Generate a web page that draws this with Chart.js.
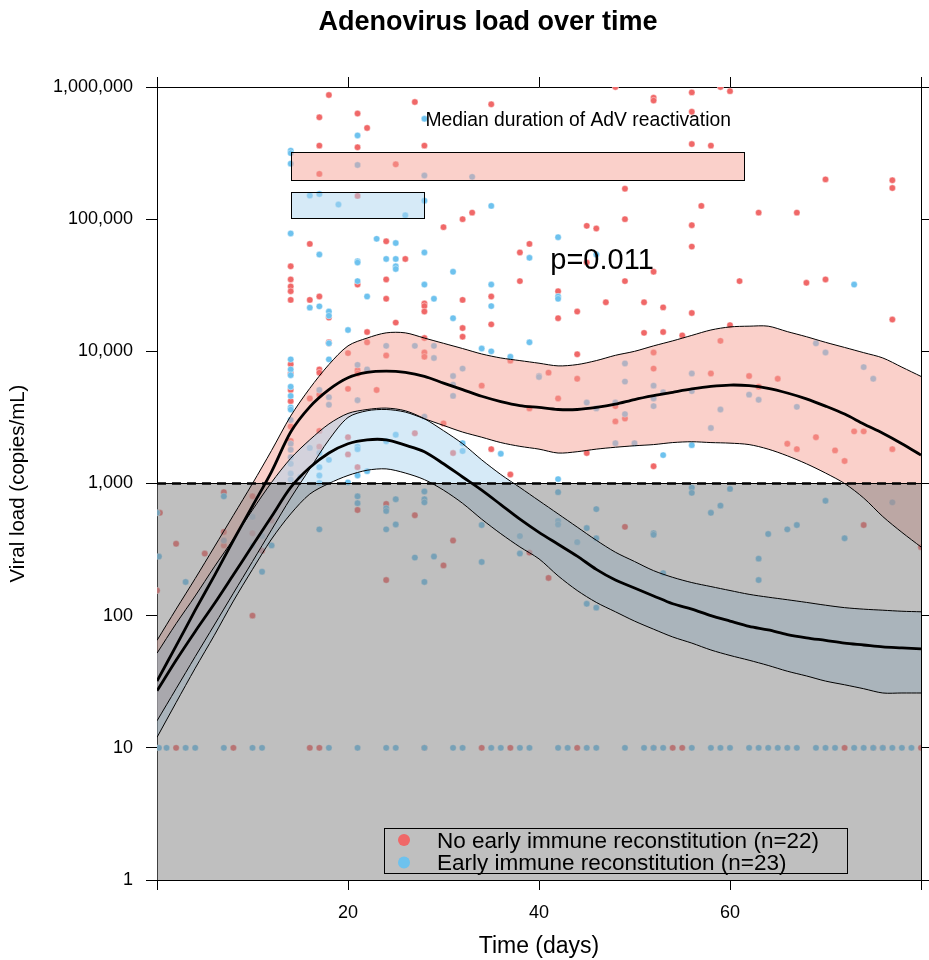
<!DOCTYPE html>
<html>
<head>
<meta charset="utf-8">
<title>Adenovirus load over time</title>
<script src="https://cdn.jsdelivr.net/npm/chart.js@4.4.1/dist/chart.umd.min.js"></script>
<style>
  html, body { margin: 0; padding: 0; background: #fff; }
  #wrap { width: 929px; height: 960px; }
</style>
</head>
<body>
<div id="wrap"><canvas id="chart"></canvas></div>
<script>
// values

const curveDays = [0, 2, 4, 6, 8, 10, 12, 14, 16, 18, 20, 22, 24, 26, 28, 30, 32, 34, 36, 38, 40,
  42, 44, 46, 48, 50, 52, 54, 56, 58, 60, 62, 64, 66, 68, 70, 72, 74, 76, 78, 80];

// no early immune reconstitution: fitted mean and 95% band
const redUpper = [65, 112, 191, 331, 575, 1000, 1780, 3240, 5250, 7940, 11000, 12600, 13800, 13800,
  12600, 11500, 10500, 9550, 8910, 8510, 8130, 7760, 7940, 8510, 9330, 10000, 11000, 12000, 13200,
  14500, 15300, 15500, 15500, 14100, 12900, 11700, 10700, 9770, 8910, 7590, 6460];
const redMean = [32, 59, 110, 200, 372, 676, 1230, 2450, 3800, 5130, 6310, 6920, 7080, 6920, 6460,
  5750, 5130, 4570, 4170, 3890, 3760, 3630, 3630, 3760, 3980, 4320, 4620, 4900, 5190, 5430, 5560,
  5500, 5250, 4840, 4370, 3850, 3350, 2820, 2400, 2000, 1640];
const redLower = [16, 28, 49, 85, 148, 257, 447, 776, 1290, 2140, 3160, 3550, 3630, 3470, 3090,
  2750, 2450, 2240, 2040, 1910, 1820, 1700, 1740, 1820, 1880, 1930, 1970, 2040, 2070, 2040, 2020,
  1970, 1820, 1620, 1410, 1200, 1000, 776, 562, 427, 331];

// early immune reconstitution
const blueUpper = [52, 87, 141, 234, 380, 631, 1020, 1550, 2140, 2820, 3390, 3630, 3720, 3550, 3090,
  2510, 2000, 1510, 1170, 933, 741, 589, 468, 372, 302, 257, 219, 195, 178, 166, 155, 145, 138, 132,
  126, 120, 115, 112, 110, 108, 107];
const blueMean = [27, 46, 76, 123, 204, 339, 562, 933, 1320, 1700, 2000, 2140, 2140, 1950, 1740,
  1410, 1120, 891, 692, 537, 427, 347, 282, 224, 186, 162, 141, 123, 112, 100, 91, 83, 78, 72, 68,
  65, 62, 60, 58, 57, 56];
const blueLower = [12, 22, 40, 71, 129, 224, 380, 589, 832, 1000, 1150, 1260, 1290, 1200, 1070, 891,
  708, 537, 417, 331, 269, 200, 155, 126, 107, 91, 79, 69, 62, 55, 50, 46, 42, 38, 35, 32, 30, 28, 26,
  26, 26];

// individual measurements [day, copies/mL]
const redPoints = [
  [18, 870000], [17, 590000], [21, 630000], [22, 490000], [27, 770000], [35, 740000],
  [17, 360000], [21, 350000], [28, 360000], [17, 220000], [25, 260000], [21, 150000],
  [30, 87000], [32, 100000], [33, 112000], [16, 65000], [24, 68000], [26, 50000],
  [38, 56000], [39, 65000], [38, 34000], [14, 44000], [14, 35000], [14, 31000],
  [14, 28500], [14, 24500], [16, 24500], [17, 26000], [18, 18000], [21, 32000],
  [24, 35000], [24, 25000], [28, 23000], [28, 22000], [28, 20000], [32, 24500],
  [35, 26000], [25, 16500], [22, 14000], [32, 15000], [32, 12900], [35, 16000], [18, 11700],
  [48, 1000000], [56, 910000], [59, 1000000], [60, 930000], [52, 830000], [52, 790000],
  [56, 650000], [56, 370000], [58, 360000], [70, 200000], [77, 197000], [77, 172000],
  [49, 170000], [57, 126000], [63, 112000], [67, 112000], [49, 100000], [56, 90000],
  [45, 89000], [46, 85000], [56, 62000], [45, 47000], [52, 40000], [49, 34000],
  [61, 34000], [68, 33000], [70, 35000], [42, 28500], [47, 23500], [51, 23500],
  [44, 20000], [53, 21500], [56, 19500], [42, 17800], [77, 17400], [51, 13800],
  [53, 14000], [55, 13200], [60, 15800], [59, 12000], [52, 9800], [44, 9500],
  [28, 12600], [18, 11500], [22, 11700], [20, 9700], [24, 9300], [28, 9800], [28, 9100],
  [14, 8000], [14, 6800], [17, 7300], [17, 6900], [21, 7200], [21, 6800], [37, 8500],
  [34, 5500], [39, 3700], [23, 5100], [17, 4700], [16, 4400], [14, 5100], [14, 4200],
  [20, 5200], [30, 2850], [35, 1820], [37, 1170], [14, 2700], [14, 2100], [17, 2500],
  [17, 1900], [20, 2240], [20, 1660], [21, 1330], [27, 2400], [31, 1700],
  [52, 7400], [58, 6800], [62, 6500], [65, 6200], [41, 6900], [44, 6200], [42, 4400],
  [48, 3850], [49, 3100], [48, 2950], [63, 5400], [45, 1700], [52, 1350], [66, 2000],
  [67, 1820], [69, 2240], [71, 1780], [72, 1480], [73, 2480], [74, 2480], [77, 1820],
  [7, 860], [0.3, 600], [10, 800], [12, 525], [10, 420], [11, 310], [7, 430], [7, 340],
  [5, 295], [2, 350], [0, 155], [21, 630], [24, 700], [27, 575], [31, 370], [30, 240],
  [24, 186], [39, 300], [49, 470], [74, 485], [80, 330], [41, 193], [10, 100]
];
const bluePoints = [
  [28, 575000], [21, 430000], [14, 330000], [14, 316000], [14, 263000], [21, 257000],
  [28, 214000], [33, 209000], [16, 151000], [17, 155000], [19, 129000], [26, 107000],
  [28, 138000], [35, 126000], [14, 78000], [17, 54000], [23, 71000], [25, 66000],
  [24, 50000], [25, 50000], [25, 44000], [25, 42000], [28, 56000], [21, 48000],
  [21, 47000], [31, 40000], [39, 51000], [16, 21400], [17, 21900], [18, 20000],
  [18, 18600], [21, 34000], [22, 26000], [28, 32000], [29, 25000], [35, 32000],
  [35, 22000], [31, 17800], [20, 14500], [39, 11700], [18, 11500], [42, 73000],
  [46, 54000], [42, 26000], [42, 25000], [73, 32000], [69, 11500], [70, 9800],
  [24, 11000], [27, 11000], [29, 11000], [29, 8900], [18, 8700], [14, 8700], [14, 7300],
  [14, 6600], [21, 7900], [22, 7300], [37, 9100], [34, 10500], [35, 10000], [40, 6500],
  [31, 6500], [31, 5600], [32, 7400], [31, 4600], [17, 5100], [14, 5400], [14, 4600],
  [14, 3760], [14, 3630], [18, 4500], [18, 3940], [21, 4270], [28, 3200], [36, 1680],
  [14, 3020], [14, 2000], [14, 1800], [14, 1580], [14, 1410], [14, 1190], [14, 1070],
  [17, 1700], [17, 1330], [17, 1150], [17, 1010], [16, 1860], [18, 1510], [21, 1900],
  [21, 1820], [21, 1150], [22, 1240], [24, 2090], [25, 2340], [32, 1760], [32, 2020],
  [15, 1120], [20, 1020],
  [49, 8100], [56, 6800], [74, 7600], [75, 6200], [40, 6400], [49, 5900], [52, 5500],
  [53, 4900], [45, 4100], [46, 3700], [48, 4100], [52, 4400], [52, 3850], [56, 5000],
  [49, 3350], [59, 3630], [62, 4700], [63, 4300], [67, 3800], [58, 2630], [48, 2020],
  [50, 2020], [56, 1950], [53, 1640], [42, 1080],
  [7, 800], [0, 600], [10, 560], [11, 400], [10, 340], [12, 340], [11, 215], [7, 370],
  [0.2, 280], [3, 180], [17, 450], [21, 800], [21, 710], [24, 650], [24, 620], [25, 760],
  [25, 490], [24, 450], [28, 870], [28, 760], [28, 720], [27, 275], [29, 280], [28, 180],
  [34, 485], [34, 255], [38, 400], [38, 295], [42, 860], [56, 930], [56, 850], [60, 910],
  [58, 600], [59, 680], [70, 740], [77, 720], [46, 640], [42, 520], [42, 490], [45, 460],
  [46, 385], [44, 360], [52, 420], [52, 410], [64, 415], [66, 450], [67, 485], [72, 385],
  [53, 210], [63, 270], [63, 186], [45, 123], [46, 115]
];
// samples below the quantification limit, plotted at 10 copies/mL
const redUndetectedDays = [2, 8, 16, 17, 28, 34, 37, 44, 52, 54, 55, 72, 75, 76, 80];
const blueUndetectedDays = [0.2, 1, 3, 4, 7, 10, 11, 18, 21, 24, 25, 28, 31, 32, 35, 36, 38, 39,
  42, 43, 45, 46, 49, 51, 52, 53, 56, 58, 59, 60, 62, 63, 64, 65, 66, 67, 69, 70, 71, 73, 74, 75,
  76, 77, 78, 79];
const undetectedLoad = 10;
const detectionLimit = 1000;

// median duration of reactivation (boxes at the top)
const durationStart = [14, 14];
const durationEnd = [61.5, 28];
const durationLow = [197000, 102000];
const durationHigh = [321000, 160000];

const groupNames = ['No early immune reconstitution (n=22)', 'Early immune reconstitution (n=23)'];
const xTickValues = [0, 20, 40, 60, 80];
const xTickLabels = ['', '20', '40', '60', ''];
const yTickValues = [1, 10, 100, 1000, 10000, 100000, 1000000];
const yTickLabels = ['1', '10', '100', '1,000', '10,000', '100,000', '1,000,000'];

const RED = 'rgb(240,104,104)';
const BLUE = 'rgb(110,194,238)';
const RED_BAND = 'rgba(245,161,149,0.5)';
const BLUE_BAND = 'rgba(173,213,239,0.5)';
const GREY = 'rgba(128,128,128,0.5)';
const FONT = '"Liberation Sans", Arial, Helvetica, sans-serif';

Chart.defaults.font.family = FONT;
Chart.defaults.font.size = 18;
Chart.defaults.color = '#000';

const toXY = (arr) => arr.map((v, i) => ({ x: curveDays[i], y: v }));
const pts = (arr) => arr.map(p => ({ x: p[0], y: p[1] }));
const undetected = (days) => days.map(d => ({ x: d, y: undetectedLoad }));
const limitLine = [{ x: 0, y: detectionLimit }, { x: 80, y: detectionLimit }];

function points(data, color, order) {
  return {
    type: 'scatter', data, order,
    pointRadius: 3.2, pointHoverRadius: 3.2,
    backgroundColor: color, borderColor: 'rgba(255,255,255,0.7)', borderWidth: 0.6
  };
}
function curve(data, width, order, extra) {
  return Object.assign({
    type: 'line', data, order, showLine: true,
    borderColor: '#000', borderWidth: width, pointRadius: 0, tension: 0.3, fill: false
  }, extra || {});
}

// datasets 5..10 are the visible lines; the fills point at the lower lines by index
const datasets = [
  points(pts(redPoints).concat(undetected(redUndetectedDays)), RED, 20),
  points(pts(bluePoints).concat(undetected(blueUndetectedDays)), BLUE, 19),
  curve(toXY(redUpper), 0, 18, { fill: { target: 6 }, backgroundColor: RED_BAND }),
  curve(toXY(blueUpper), 0, 17, { fill: { target: 9 }, backgroundColor: BLUE_BAND }),
  curve(limitLine, 1, 16, { fill: 'start', backgroundColor: GREY, tension: 0 }),
  curve(toXY(redUpper), 1, 10),
  curve(toXY(redLower), 1, 10),
  curve(toXY(redMean), 2.8, 9),
  curve(toXY(blueUpper), 1, 8),
  curve(toXY(blueLower), 1, 8),
  curve(toXY(blueMean), 2.8, 7),
  curve(limitLine, 2.6, 5, { borderDash: [9, 6], tension: 0 })
];

const setTicks = (values) => (scale) => { scale.ticks = values.map(v => ({ value: v })); };
const frameGrid = (len) => ({ display: true, drawOnChartArea: false, drawTicks: true, tickLength: len, color: '#000', lineWidth: 1 });
const frameBorder = { display: true, color: '#000', width: 1 };

// boxes and texts inside the plot
const annotate = {
  id: 'annotate',
  afterDatasetsDraw(chart) {
    const { ctx, scales: { x, y } } = chart;
    const fills = [RED_BAND, BLUE_BAND];
    ctx.save();
    ctx.lineWidth = 1;
    ctx.strokeStyle = '#000';
    durationStart.forEach((start, i) => {
      const x0 = Math.round(x.getPixelForValue(start)) + 0.5;
      const x1 = Math.round(x.getPixelForValue(durationEnd[i])) + 0.5;
      const y0 = Math.round(y.getPixelForValue(durationHigh[i])) + 0.5;
      const y1 = Math.round(y.getPixelForValue(durationLow[i])) + 0.5;
      ctx.fillStyle = fills[i];
      ctx.fillRect(x0, y0, x1 - x0, y1 - y0);
      ctx.strokeRect(x0, y0, x1 - x0, y1 - y0);
    });
    ctx.fillStyle = '#000';
    ctx.textAlign = 'center';
    ctx.textBaseline = 'alphabetic';
    ctx.font = '19.3px ' + FONT;
    ctx.fillText('Median duration of AdV reactivation', x.getPixelForValue(44.1), y.getPixelForValue(505000));
    ctx.font = '29px ' + FONT;
    ctx.fillText('p=0.011', x.getPixelForValue(46.6), y.getPixelForValue(41900));
    ctx.restore();
  }
};

// main title and the key box in the lower right of the panel
const frame = {
  id: 'frame',
  afterDraw(chart) {
    const { ctx, chartArea } = chart;
    ctx.save();
    ctx.fillStyle = '#000';
    ctx.textAlign = 'center';
    ctx.textBaseline = 'alphabetic';
    ctx.font = 'bold 27px ' + FONT;
    ctx.fillText('Adenovirus load over time', 488, 30);

    const left = chartArea.right - 537, top = chartArea.bottom - 52;
    ctx.lineWidth = 1;
    ctx.strokeStyle = '#000';
    ctx.strokeRect(left + 0.5, top + 0.5, 463, 45);
    ctx.font = '22.5px ' + FONT;
    ctx.textAlign = 'left';
    [RED, BLUE].forEach((c, i) => {
      const cy = top + 12 + i * 22.5;
      ctx.fillStyle = c;
      ctx.beginPath();
      ctx.arc(left + 20, cy, 6, 0, Math.PI * 2);
      ctx.fill();
      ctx.fillStyle = '#000';
      ctx.fillText(groupNames[i], left + 53, cy + 7.5);
    });
    ctx.restore();
  }
};

new Chart(document.getElementById('chart'), {
  type: 'scatter',
  data: { datasets },
  options: {
    responsive: true,
    maintainAspectRatio: false,
    animation: false,
    devicePixelRatio: 1,
    layout: { padding: { top: 77, left: 0, right: 0, bottom: 0 } },
    plugins: { legend: { display: false }, tooltip: { enabled: false } },
    scales: {
      x: {
        type: 'linear', position: 'bottom', min: 0, max: 80,
        afterBuildTicks: setTicks(xTickValues),
        afterFit: (s) => { s.height = 80; s.paddingLeft = 0; s.paddingRight = 0; },
        ticks: { padding: 12, maxRotation: 0, autoSkip: false, callback: (v, i) => xTickLabels[i] },
        grid: frameGrid(10), border: frameBorder,
        title: { display: true, text: 'Time (days)', font: { size: 23 }, padding: { top: 0, bottom: 0 } }
      },
      x2: {
        type: 'linear', position: 'top', min: 0, max: 80,
        afterBuildTicks: setTicks(xTickValues),
        afterFit: (s) => { s.height = 10; s.paddingLeft = 0; s.paddingRight = 0; },
        ticks: { display: false },
        grid: frameGrid(10), border: frameBorder
      },
      y: {
        type: 'logarithmic', position: 'left', min: 1, max: 1000000,
        afterBuildTicks: setTicks(yTickValues),
        afterFit: (s) => { s.width = 157; },
        ticks: { padding: 13, autoSkip: false, callback: (v, i) => yTickLabels[i] },
        grid: frameGrid(11), border: frameBorder,
        title: { display: true, text: 'Viral load (copies/mL)', font: { size: 20.5 }, padding: { top: 6, bottom: 0 } }
      },
      y2: {
        type: 'logarithmic', position: 'right', min: 1, max: 1000000,
        afterBuildTicks: setTicks(yTickValues),
        afterFit: (s) => { s.width = 8; },
        ticks: { display: false },
        grid: frameGrid(8), border: frameBorder
      }
    }
  },
  plugins: [annotate, frame]
});
</script>
</body>
</html>
